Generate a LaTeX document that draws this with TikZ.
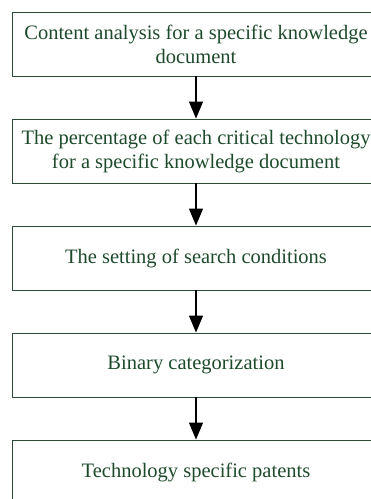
\documentclass[tikz,border=0pt]{standalone}
\usepackage{fontspec}
\setmainfont{Liberation Serif}
\usetikzlibrary{arrows.meta}
\definecolor{boxline}{HTML}{2E4A38}
\definecolor{txtgreen}{HTML}{1E4A2C}
\begin{document}
\begin{tikzpicture}[x=1pt,y=1pt,
  stepbox/.style={draw=boxline, line width=0.9pt, rectangle, minimum width=368pt, minimum height=64pt,
    inner sep=0pt, text=txtgreen, align=center,
    font=\fontsize{20.5pt}{24pt}\selectfont},
  flow/.style={draw=black, line width=1.3pt, -{Triangle[width=14pt,length=17pt]}}]
\useasboundingbox (0,0) rectangle (371,-499);
\clip (0,0) rectangle (371,-499);
\node[stepbox] (b1) at (196,-44) {Content analysis for a specific knowledge\\document};
\node[stepbox] (b2) at (196,-151) {The percentage of each critical technology\\for a specific knowledge document};
\node[stepbox] (b3) at (196,-258) {The setting of search conditions};
\node[stepbox] (b4) at (196,-365) {Binary categorization};
\node[stepbox] (b5) at (196,-472) {Technology specific patents};
\draw[flow] (b1) -- (b2);
\draw[flow] (b2) -- (b3);
\draw[flow] (b3) -- (b4);
\draw[flow] (b4) -- (b5);
\end{tikzpicture}
\end{document}
